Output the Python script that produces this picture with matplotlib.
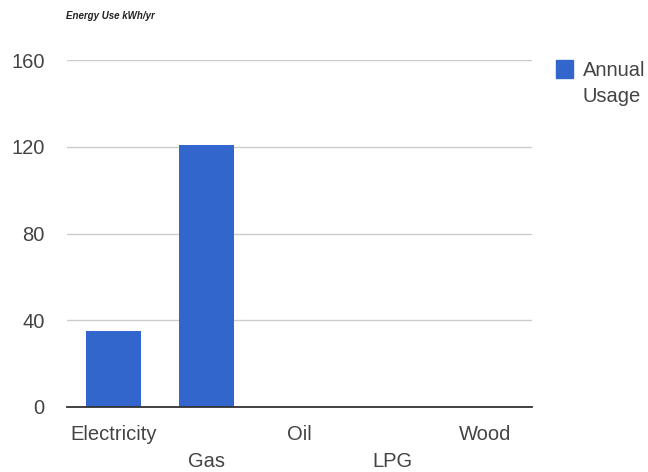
import numpy as np
import matplotlib.pyplot as plt

plt.rcParams["font.family"] = ["Liberation Sans", "DejaVu Sans"]

categories = ["Electricity", "Gas", "Oil", "LPG", "Wood"]
usage = [35, 121, 0, 0, 0]
yticks = [0, 40, 80, 120, 160]

fig = plt.figure(figsize=(6.48, 4.72), dpi=100)
ax = fig.add_axes([67 / 648, 1 - 407 / 472, 465 / 648, 347 / 472])

x = np.arange(len(categories))
ax.bar(x, usage, width=0.6, color="#3366cc", zorder=3)

ax.set_xlim(-0.5, len(categories) - 0.5)
ax.set_ylim(0, 160)
ax.set_yticks(yticks)
ax.set_yticklabels([str(v) for v in yticks], fontsize=14.5, color="#444444")
ax.yaxis.grid(True, color="#cccccc", linewidth=1, zorder=0)
ax.tick_params(axis="both", length=0)
ax.tick_params(axis="y", pad=16)

ax.set_xticks(x)
ax.set_xticklabels([])
for i, name in enumerate(categories):
    off = -19.5 if i % 2 == 0 else -39
    ax.annotate(name, (i, 0), xycoords=("data", "axes fraction"),
                xytext=(0, off), textcoords="offset points", ha="center",
                va="center", fontsize=14.5, color="#444444")

for s in ["top", "right", "left"]:
    ax.spines[s].set_visible(False)
ax.spines["bottom"].set_color("#333333")
ax.spines["bottom"].set_linewidth(1.3)
ax.spines["bottom"].set_zorder(4)

fig.text(66 / 648, 1 - 16 / 472, "Energy Use kWh/yr", fontsize=7,
         style="italic", weight="bold", color="#222222", va="center")

# legend
fig.patches.append(plt.Rectangle((556 / 648, 1 - 78 / 472), 17 / 648, 18 / 472,
                                 transform=fig.transFigure, color="#3366cc"))
fig.text(583 / 648, 1 - 71 / 472, "Annual", fontsize=14.5, color="#444444", va="center")
fig.text(583 / 648, 1 - 97 / 472, "Usage", fontsize=14.5, color="#444444", va="center")

fig.savefig("out.png", dpi=100)
